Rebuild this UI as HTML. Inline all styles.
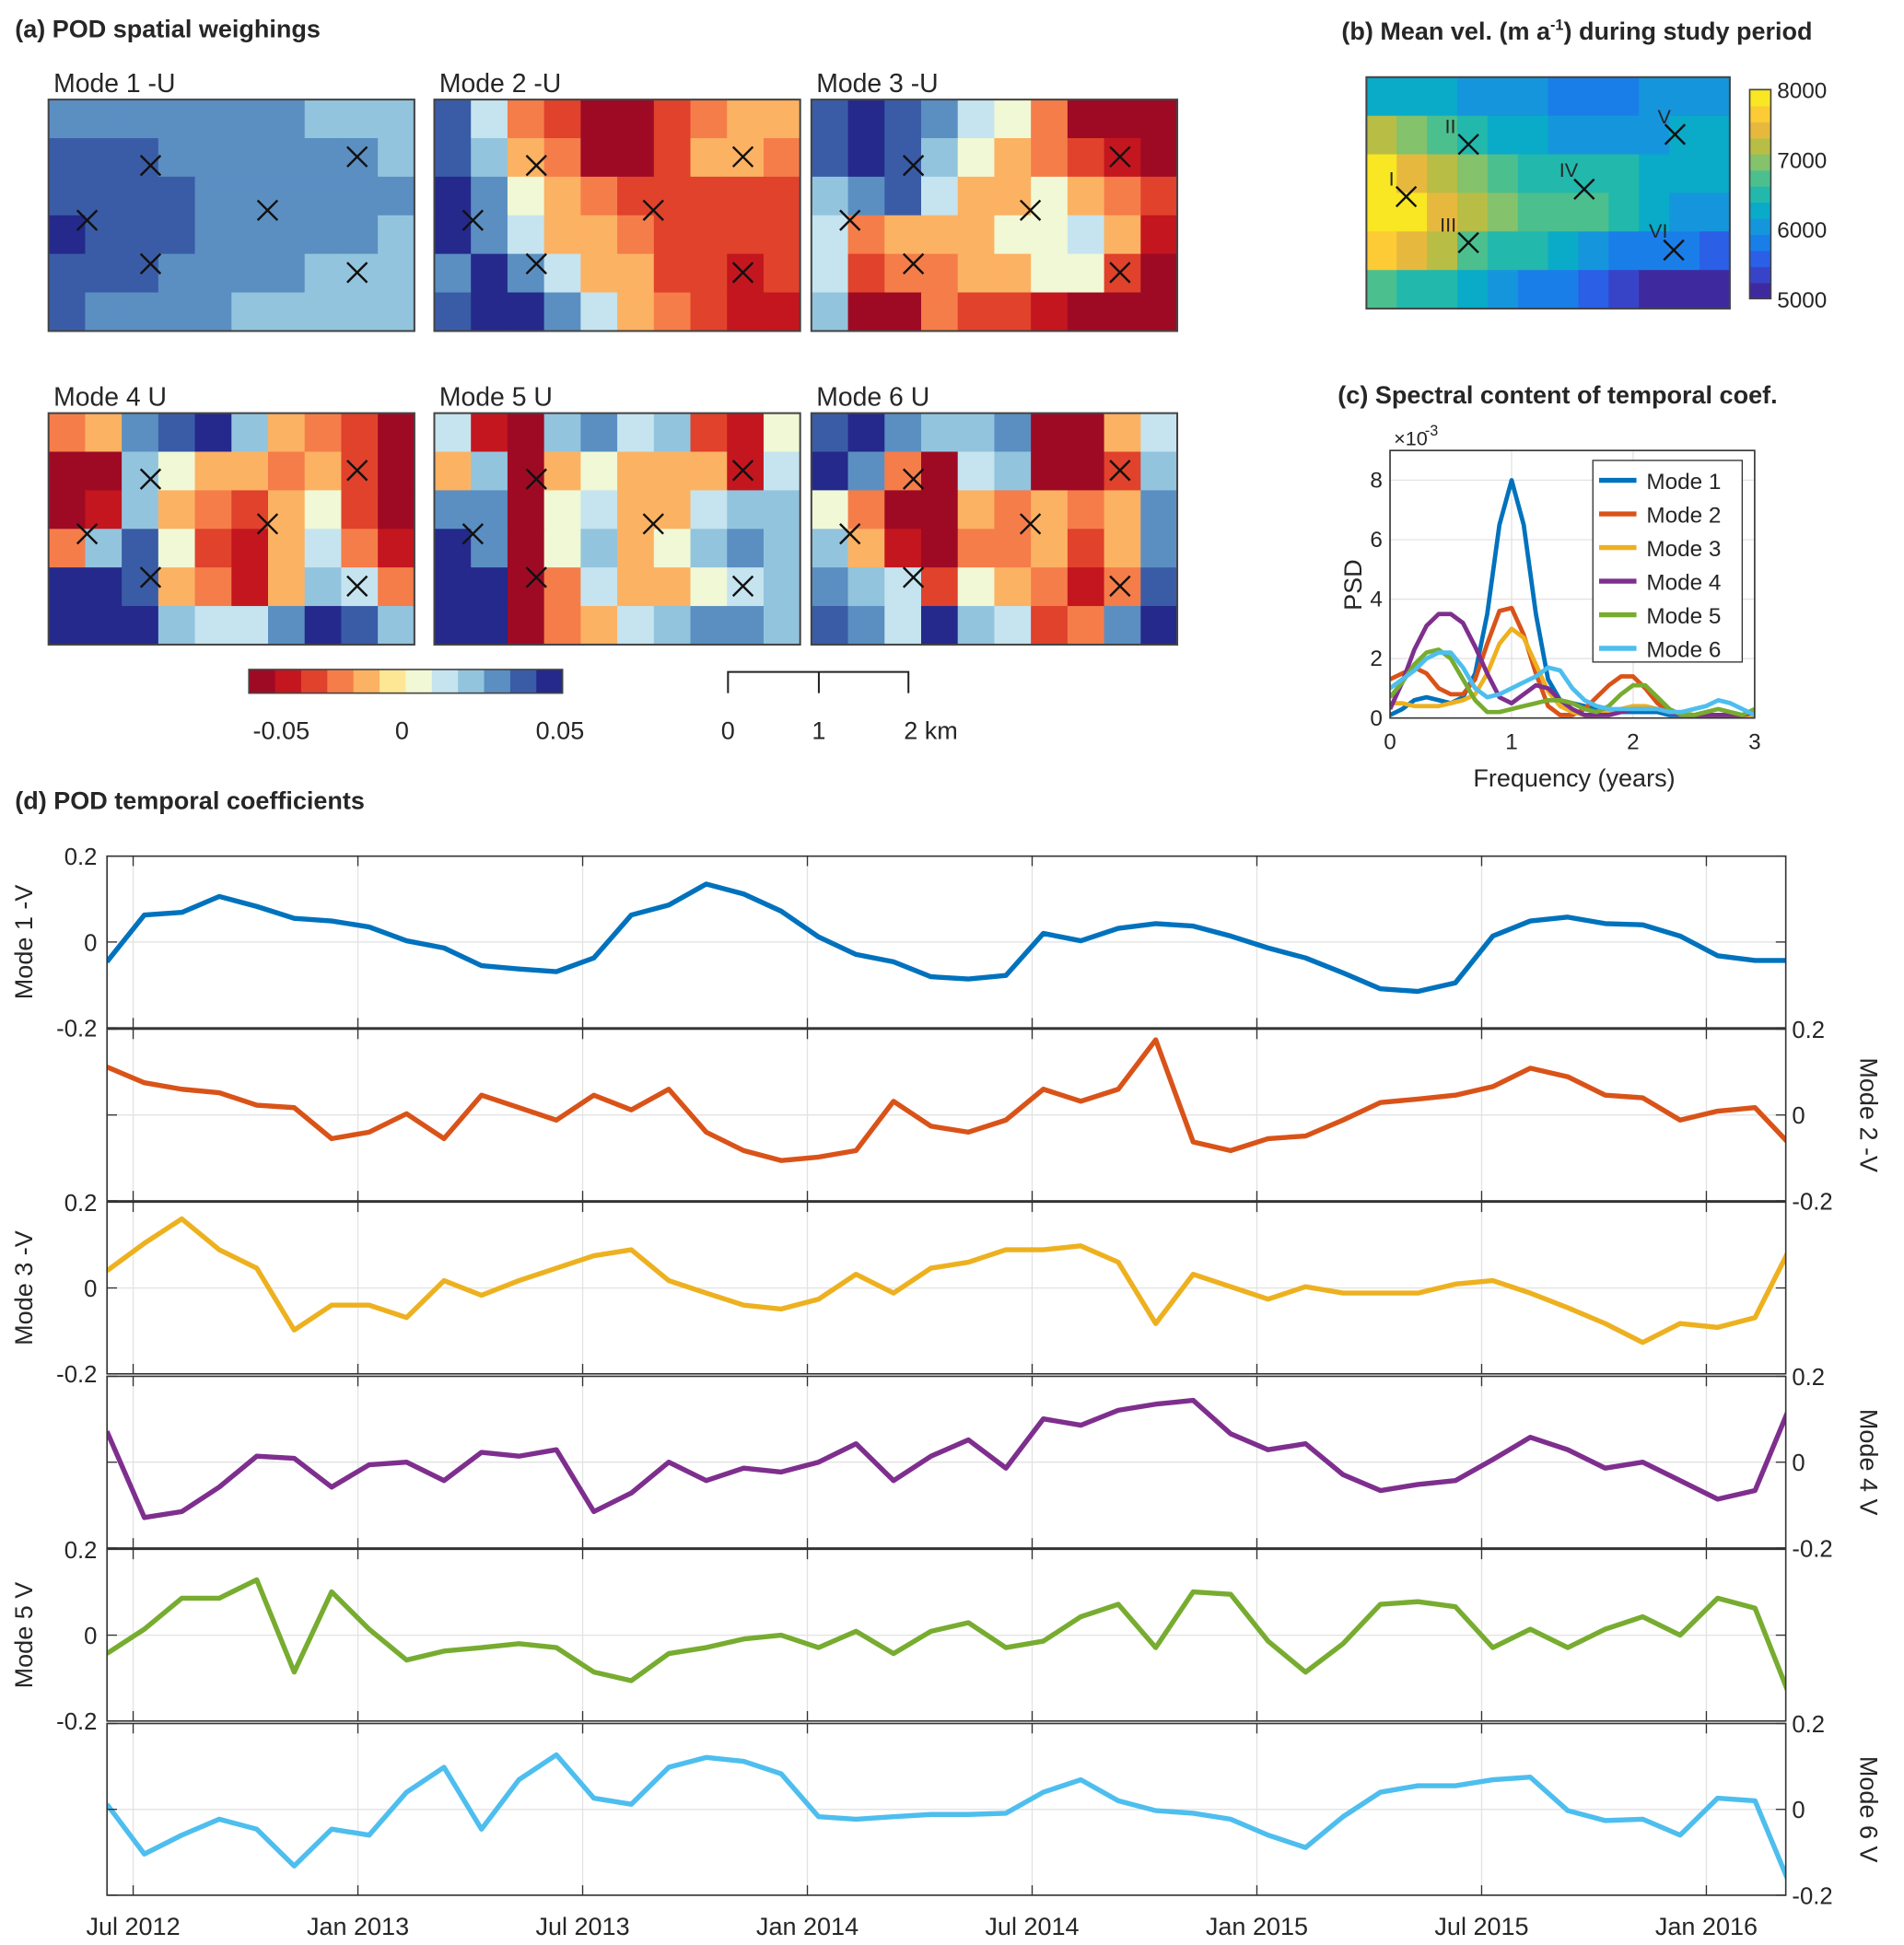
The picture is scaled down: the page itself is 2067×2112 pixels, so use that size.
<!DOCTYPE html>
<html><head><meta charset="utf-8"><style>html,body{margin:0;padding:0;background:#fff}svg{display:block}text{font-family:"Liberation Sans",sans-serif;fill:#262626}</style></head>
<body>
<svg id="fig" xmlns="http://www.w3.org/2000/svg" width="2067" height="2112" viewBox="0 0 1530 1563" preserveAspectRatio="none">
<text x="12" y="30" font-size="20" font-weight="bold" fill="#111">(a) POD spatial weighings</text>
<text x="1078" y="32" font-size="20" font-weight="bold" fill="#111">(b) Mean vel. (m a<tspan font-size="12" dy="-8">-1</tspan><tspan dy="8">) during study period</tspan></text>
<text x="1075" y="324" font-size="20" font-weight="bold" fill="#111">(c) Spectral content of temporal coef.</text>
<text x="12" y="650" font-size="20" font-weight="bold" fill="#111">(d) POD temporal coefficients</text>
<g id="maps"></g><g id="pb"></g><g id="pc"></g><g id="pd"></g>
</svg>
<script>
// ---------- data ----------
const modeTitles=["Mode 1 -U","Mode 2 -U","Mode 3 -U","Mode 4 U","Mode 5 U","Mode 6 U"];
const weights1=[[3,3,3,3,3,3,3,2,2,2],[4,4,4,3,3,3,3,3,3,2],[4,4,4,4,3,3,3,3,3,3],[5,4,4,4,3,3,3,3,3,2],[4,4,4,3,3,3,3,2,2,2],[4,3,3,3,3,2,2,2,2,2]];
const weights2=[[4,1,-2,-3,-5,-5,-3,-2,-1,-1],[4,2,-1,-2,-5,-5,-3,-1,-1,-2],[5,3,0,-1,-2,-3,-3,-3,-3,-3],[5,3,1,-1,-1,-2,-3,-3,-3,-3],[3,5,3,1,-1,-1,-3,-3,-4,-3],[4,5,5,3,1,-1,-2,-3,-4,-4]];
const weights3=[[4,5,4,3,1,0,-2,-5,-5,-5],[4,5,4,2,0,-1,-2,-3,-4,-5],[2,3,4,1,-1,-1,0,-1,-2,-3],[1,-2,-1,-1,-1,0,0,1,-1,-4],[1,-3,-2,-2,-1,-1,0,0,-3,-5],[2,-5,-5,-2,-3,-3,-4,-5,-5,-5]];
const weights4=[[-2,-1,3,4,5,2,-1,-2,-3,-5],[-5,-5,2,0,-1,-1,-2,-1,-3,-5],[-5,-4,2,-1,-2,-3,-1,0,-3,-5],[-2,2,4,0,-3,-4,-1,1,-2,-4],[5,5,4,-1,-2,-4,-1,2,1,-2],[5,5,5,2,1,1,3,5,4,2]];
const weights5=[[1,-4,-5,2,3,1,2,-3,-4,0],[-1,2,-5,-1,0,-1,-1,-1,-4,1],[3,3,-5,0,1,-1,-1,1,2,2],[5,3,-5,0,2,-1,0,2,3,2],[5,5,-5,-2,1,-1,-1,0,1,2],[5,5,-5,-2,-1,1,2,3,3,2]];
const weights6=[[4,5,3,2,2,3,-5,-5,-1,1],[5,3,-2,-5,1,2,-5,-5,-3,2],[0,-2,-5,-5,-1,-2,-1,-2,-1,3],[2,-1,-4,-5,-2,-2,-1,-3,-1,3],[3,2,1,-3,0,-1,-2,-4,-2,4],[4,3,1,5,2,1,-3,-2,3,5]];
const cbarTicks=["-0.05","0","0.05"];
const velocity=[[6300,6300,6200,6100,6000,6000,5900,5900,5900,6000,6000,6000],[7200,7000,6700,6500,6300,6200,6100,6100,6100,6100,6200,6200],[7800,7500,7200,7000,6800,6600,6500,6500,6500,6300,6300,6200],[8000,7800,7400,7100,6900,6800,6700,6700,6400,6200,6100,6000],[7700,7400,7100,6800,6600,6500,6300,6100,5900,5800,5700,5500],[6800,6600,6400,6300,6000,5900,5800,5500,5400,5200,5100,5000]];
const velTicks=[5000,6000,7000,8000];
const siteNames=["I","II","III","IV","V","VI"];
const freqs=[0,0.1,0.2,0.3,0.4,0.5,0.6,0.7,0.8,0.9,1,1.1,1.2,1.3,1.4,1.5,1.6,1.7,1.8,1.9,2,2.1,2.2,2.3,2.4,2.5,2.6,2.7,2.8,2.9,3];
const psd1=[0.1,0.3,0.6,0.7,0.6,0.5,0.7,1.5,3.5,6.5,8.0,6.5,3.5,1.3,0.6,0.5,0.4,0.3,0.2,0.2,0.2,0.2,0.2,0.1,0.1,0.1,0.1,0.1,0.1,0.1,0.1];
const psd2=[1.3,1.5,1.7,1.5,1.0,0.8,0.8,1.3,2.5,3.6,3.7,2.8,1.5,0.4,0.1,0.1,0.3,0.7,1.1,1.4,1.4,1.0,0.5,0.2,0.1,0.1,0.1,0.1,0.1,0.1,0.1];
const psd3=[0.5,0.5,0.4,0.4,0.4,0.5,0.6,0.8,1.5,2.5,3.0,2.7,1.8,0.9,0.4,0.2,0.1,0.1,0.2,0.3,0.4,0.4,0.3,0.2,0.2,0.1,0.1,0.1,0.1,0.1,0.1];
const psd4=[0.3,1.2,2.3,3.1,3.5,3.5,3.2,2.4,1.5,0.7,0.5,0.8,1.1,1.0,0.6,0.3,0.1,0.1,0.1,0.2,0.3,0.3,0.3,0.2,0.1,0.1,0.1,0.1,0.1,0.1,0.2];
const psd5=[0.7,1.2,1.8,2.2,2.3,2.0,1.3,0.6,0.2,0.2,0.3,0.4,0.5,0.6,0.6,0.5,0.3,0.2,0.4,0.8,1.1,1.1,0.7,0.3,0.1,0.1,0.2,0.3,0.2,0.1,0.3];
const psd6=[1.0,1.3,1.6,2.0,2.2,2.2,1.7,1.0,0.7,0.8,1.0,1.2,1.4,1.7,1.6,1.0,0.6,0.4,0.3,0.3,0.3,0.3,0.3,0.2,0.2,0.3,0.4,0.6,0.5,0.3,0.1];
const legendLabels=["Mode 1","Mode 2","Mode 3","Mode 4","Mode 5","Mode 6"];
const psdTicksY=[0,2,4,6,8];
const psdTicksX=[0,1,2,3];
const dateLabels=["Jul 2012","Jan 2013","Jul 2013","Jan 2014","Jul 2014","Jan 2015","Jul 2015","Jan 2016"];
const dateMonths=[0,6,12,18,24,30,36,42];
const coef1=[-0.046,0.063,0.069,0.106,0.083,0.055,0.049,0.035,0.003,-0.014,-0.055,-0.063,-0.069,-0.037,0.063,0.086,0.135,0.112,0.072,0.012,-0.029,-0.046,-0.081,-0.086,-0.078,0.02,0.003,0.032,0.043,0.037,0.014,-0.014,-0.037,-0.072,-0.109,-0.115,-0.095,0.014,0.049,0.058,0.043,0.04,0.014,-0.032,-0.043,-0.043];
const coef2=[0.112,0.075,0.06,0.052,0.023,0.017,-0.055,-0.04,0.003,-0.055,0.046,0.017,-0.012,0.046,0.012,0.06,-0.04,-0.083,-0.106,-0.098,-0.083,0.032,-0.026,-0.04,-0.012,0.06,0.032,0.06,0.175,-0.063,-0.083,-0.055,-0.049,-0.012,0.029,0.037,0.046,0.066,0.109,0.089,0.046,0.04,-0.012,0.009,0.017,-0.075];
const coef3=[0.04,0.104,0.161,0.089,0.046,-0.098,-0.04,-0.04,-0.069,0.017,-0.017,0.017,0.046,0.075,0.089,0.017,-0.012,-0.04,-0.049,-0.026,0.032,-0.012,0.046,0.06,0.089,0.089,0.098,0.06,-0.083,0.032,0.003,-0.026,0.003,-0.012,-0.012,-0.012,0.009,0.017,-0.012,-0.046,-0.083,-0.127,-0.083,-0.092,-0.069,0.104];
const coef4=[0.072,-0.129,-0.115,-0.058,0.014,0.009,-0.058,-0.006,0,-0.043,0.023,0.014,0.029,-0.115,-0.072,0,-0.043,-0.014,-0.023,0,0.043,-0.043,0.014,0.052,-0.014,0.101,0.086,0.121,0.135,0.144,0.066,0.029,0.043,-0.029,-0.066,-0.052,-0.043,0.006,0.058,0.029,-0.014,0,-0.043,-0.086,-0.066,0.144];
const coef5=[-0.043,0.014,0.086,0.086,0.129,-0.086,0.101,0.014,-0.058,-0.037,-0.029,-0.02,-0.029,-0.086,-0.106,-0.043,-0.029,-0.009,0,-0.029,0.009,-0.043,0.009,0.029,-0.029,-0.014,0.043,0.072,-0.029,0.101,0.095,-0.014,-0.086,-0.02,0.072,0.078,0.066,-0.029,0.014,-0.029,0.014,0.043,0,0.086,0.063,-0.158];
const coef6=[0.012,-0.104,-0.06,-0.023,-0.046,-0.132,-0.046,-0.06,0.04,0.098,-0.046,0.069,0.127,0.026,0.012,0.098,0.121,0.112,0.083,-0.017,-0.023,-0.017,-0.012,-0.012,-0.009,0.04,0.069,0.02,-0.003,-0.009,-0.023,-0.06,-0.089,-0.017,0.04,0.055,0.055,0.069,0.075,-0.003,-0.026,-0.023,-0.06,0.026,0.02,-0.19];
const coefTitles=["Mode 1 -V","Mode 2 -V","Mode 3 -V","Mode 4 V","Mode 5 V","Mode 6 V"];
const coefTicks=[-0.2,0,0.2];
const startMonth=-0.7;

// ---------- helpers ----------
const NS="http://www.w3.org/2000/svg";
function mk(parent,tag,attrs,txt){const e=document.createElementNS(NS,tag);for(const k in attrs)e.setAttribute(k,attrs[k]);if(txt!==undefined)e.textContent=txt;parent.appendChild(e);return e;}
const colors=["#0072bd","#d95319","#edb120","#7e2f8e","#77ac30","#4dbeee"];
const rdyl=["#9e0a24","#c4161f","#e0422c","#f57d4a","#fcb263","#fee794","#f1f8d6","#c5e4ef","#93c4de","#5b8fc2","#3a5ca6","#24298b"];
function rdColor(v){let i=Math.floor((v+5)/10*12);i=Math.max(0,Math.min(11,i));return rdyl[i];}
const parula=["#3e2a9e","#3744c8","#2a5fe6","#1a7ee8","#1596dc","#0aaac9","#22b8ac","#4cbf8e","#84c26c","#b8bd45","#e6b93e","#fccb36","#f8e722"];
function parColor(v){let i=Math.floor((v-5000)/3000*12.99);i=Math.max(0,Math.min(12,i));return parula[i];}

// ---------- panel a ----------
const maps=document.getElementById('maps');
const weights=[weights1,weights2,weights3,weights4,weights5,weights6];
const mapX=[39,349,652], mapY=[80,332], MW=294, MH=186;
const crosses=[[31,97],[82,53],[82,132],[176,89],[248,46],[248,139]];
weights.forEach((grid,k)=>{
  const ox=mapX[k%3], oy=mapY[Math.floor(k/3)];
  const g=mk(maps,'g',{});
  
  
  const rows=grid.length, cols=grid[0].length, cw=MW/cols, ch=MH/rows;
  grid.forEach((row,r)=>row.forEach((v,c)=>{
    const rc=mk(g,'rect',{x:ox+c*cw,y:oy+r*ch,width:cw+0.6,height:ch+0.6,fill:rdColor(v)});
    
    
  }));
  mk(g,'rect',{x:ox,y:oy,width:MW,height:MH,fill:'none',stroke:'#444','stroke-width':1.5});
  crosses.forEach(p=>{const cx=ox+p[0],cy=oy+p[1];
    const cr=mk(g,'path',{d:`M${cx-8} ${cy-8}L${cx+8} ${cy+8}M${cx+8} ${cy-8}L${cx-8} ${cy+8}`,stroke:'#111','stroke-width':1.8});
    
    });
  const t=mk(maps,'text',{x:ox+4,y:oy-6,'font-size':21,fill:'#111'},modeTitles[k]);
  
  
});
// colorbar a
const cb=mk(maps,'g',{});


rdyl.forEach((c,i)=>mk(cb,'rect',{x:200+i*21,y:538,width:21.5,height:19,fill:c}));
mk(cb,'rect',{x:200,y:538,width:252,height:19,fill:'none',stroke:'#444','stroke-width':1.2});
[226,323,450].forEach((x,i)=>{const t=mk(cb,'text',{x:x,y:594,'font-size':20,'text-anchor':'middle'},cbarTicks[i]);
  
  });
// scale bar
const sb=mk(maps,'g',{});


mk(sb,'path',{d:'M585 557V540H730V557M658 540V557',stroke:'#222','stroke-width':1.5,fill:'none'});
mk(sb,'text',{x:585,y:594,'font-size':20,'text-anchor':'middle'},'0');
mk(sb,'text',{x:658,y:594,'font-size':20,'text-anchor':'middle'},'1');
mk(sb,'text',{x:748,y:594,'font-size':20,'text-anchor':'middle'},'2 km');

// ---------- panel b ----------
const pb=document.getElementById('pb');
const bx=1098,by=62,bw=292,bh=186;
const gb=mk(pb,'g',{});


velocity.forEach((row,r)=>row.forEach((v,c)=>{const cw=bw/row.length,ch=bh/velocity.length;
  const rc=mk(gb,'rect',{x:bx+c*cw,y:by+r*ch,width:cw+0.6,height:ch+0.6,fill:parColor(v)});
  
  }));
mk(gb,'rect',{x:bx,y:by,width:bw,height:bh,fill:'none',stroke:'#444','stroke-width':1.5});
const sitePos=[[32,96],[82,54],[82,133],[175,90],[248,46],[247,139]];
const labPos=[[18,81],[63,39],[59,118],[155,74],[234,31],[227,123]];
sitePos.forEach((p,i)=>{const cx=bx+p[0],cy=by+p[1];
  const cr=mk(gb,'path',{d:`M${cx-8} ${cy-8}L${cx+8} ${cy+8}M${cx+8} ${cy-8}L${cx-8} ${cy+8}`,stroke:'#111','stroke-width':1.8});
  
  
  const t=mk(gb,'text',{x:bx+labPos[i][0],y:by+labPos[i][1]+6,'font-size':16,fill:'#111'},siteNames[i]);
  
  });
const vcb=mk(pb,'g',{});


const vTop=72,vBot=240,vX=1406,vW=17;
parula.forEach((c,i)=>{const h=(vBot-vTop)/parula.length;mk(vcb,'rect',{x:vX,y:vBot-(i+1)*h,width:vW,height:h+0.5,fill:c});});
mk(vcb,'rect',{x:vX,y:vTop,width:vW,height:vBot-vTop,fill:'none',stroke:'#444','stroke-width':1.2});
velTicks.forEach(v=>{const y=vBot-(v-5000)/3000*(vBot-vTop);
  const t=mk(vcb,'text',{x:1428,y:y+7,'font-size':18},String(v));
  
  });

// ---------- panel c ----------
const pc=document.getElementById('pc');
const cX0=1117,cX1=1410,cY0=577,cY1=362;
const fx=f=>cX0+f/3*(cX1-cX0), py=v=>cY0-v/9*(cY0-cY1);
mk(pc,'rect',{x:cX0,y:cY1,width:cX1-cX0,height:cY0-cY1,fill:'#fff'});
psdTicksX.forEach(f=>{if(f>0&&f<3)mk(pc,'line',{x1:fx(f),x2:fx(f),y1:cY1,y2:cY0,stroke:'#e3e3e3'});
  const t=mk(pc,'text',{x:fx(f),y:602,'font-size':18,'text-anchor':'middle'},String(f));
  
  });
psdTicksY.forEach(v=>{if(v>0)mk(pc,'line',{x1:cX0,x2:cX1,y1:py(v),y2:py(v),stroke:'#e3e3e3'});
  const t=mk(pc,'text',{x:1111,y:py(v)+6,'font-size':18,'text-anchor':'end'},String(v));
  
  });
const cl=mk(pc,'defs',{});const cp=mk(cl,'clipPath',{id:'cclip'});mk(cp,'rect',{x:cX0,y:cY1,width:cX1-cX0,height:cY0-cY1});
[psd1,psd2,psd3,psd4,psd5,psd6].forEach((s,k)=>{
  const d=s.map((v,i)=>(i?'L':'M')+fx(freqs[i]).toFixed(1)+' '+py(v).toFixed(1)).join('');
  const p=mk(pc,'path',{d:d,fill:'none',stroke:colors[k],'stroke-width':3.5,'stroke-linejoin':'round','clip-path':'url(#cclip)'});
  
  });
mk(pc,'rect',{x:cX0,y:cY1,width:cX1-cX0,height:cY0-cY1,fill:'none',stroke:'#333','stroke-width':1.2});
const lg=mk(pc,'g',{});


mk(lg,'rect',{x:1280,y:370,width:120,height:162,fill:'#fff',stroke:'#333','stroke-width':1});
legendLabels.forEach((l,k)=>{const y=386+k*27;
  mk(lg,'line',{x1:1285,x2:1315,y1:y,y2:y,stroke:colors[k],'stroke-width':4});
  const t=mk(lg,'text',{x:1323,y:y+7,'font-size':18},l);
  
  });
const ex=mk(pc,'text',{x:1120,y:358,'font-size':16},'\u00d710');


mk(pc,'text',{x:1145,y:350,'font-size':12},'-3');
const yl=mk(pc,'text',{x:1094,y:470,'font-size':20,'text-anchor':'middle',transform:'rotate(-90 1094 470)'},'PSD');


const xl=mk(pc,'text',{x:1265,y:632,'font-size':20,'text-anchor':'middle'},'Frequency (years)');



// ---------- panel d ----------
const pd=document.getElementById('pd');
const dX0=86,dX1=1435,tops=[688,827,966,1106,1245,1385],PH=138;
const mx=m=>107+m*30.1;
const coefs=[coef1,coef2,coef3,coef4,coef5,coef6];
const dd=mk(pd,'defs',{});
coefs.forEach((s,k)=>{
  const T=tops[k],B=T+PH, vy=v=>T+PH/2-v/0.2*(PH/2);
  const cpp=mk(dd,'clipPath',{id:'dc'+k});mk(cpp,'rect',{x:dX0,y:T-20,width:dX1-dX0,height:PH+40});
  const g=mk(pd,'g',{});
  
  
  dateMonths.forEach(m=>mk(g,'line',{x1:mx(m),x2:mx(m),y1:T,y2:B,stroke:'#e3e3e3'}));
  mk(g,'line',{x1:dX0,x2:dX1,y1:vy(0),y2:vy(0),stroke:'#e3e3e3'});
  const d=s.map((v,i)=>(i?'L':'M')+mx(startMonth+i).toFixed(1)+' '+vy(v).toFixed(1)).join('');
  const p=mk(g,'path',{d:d,fill:'none',stroke:colors[k],'stroke-width':4,'stroke-linejoin':'round','clip-path':'url(#dc'+k+')'});
  
  
  mk(g,'rect',{x:dX0,y:T,width:dX1-dX0,height:PH,fill:'none',stroke:'#333','stroke-width':1.2});
  const left=(k%2===0);
  coefTicks.forEach(v=>{const y=vy(v);
    mk(g,'line',{x1:dX0,x2:dX0+8,y1:y,y2:y,stroke:'#333'});
    mk(g,'line',{x1:dX1-8,x2:dX1,y1:y,y2:y,stroke:'#333'});
    const t=mk(g,'text',{x:left?78:1440,y:y+7,'font-size':19,'text-anchor':left?'end':'start'},String(v));
    
    });
  dateMonths.forEach(m=>{mk(g,'line',{x1:mx(m),x2:mx(m),y1:B,y2:B-8,stroke:'#333'});mk(g,'line',{x1:mx(m),x2:mx(m),y1:T,y2:T+8,stroke:'#333'});});
  const cy=T+PH/2, lx=left?26:1495;
  const tt=mk(g,'text',{x:lx,y:cy,'font-size':20,'text-anchor':'middle',transform:`rotate(${left?-90:90} ${lx} ${cy})`},coefTitles[k]);
  
  
});
dateMonths.forEach((m,i)=>{const t=mk(pd,'text',{x:mx(m),y:1555,'font-size':20,'text-anchor':'middle'},dateLabels[i]);
  
  });
</script>
</body></html>
